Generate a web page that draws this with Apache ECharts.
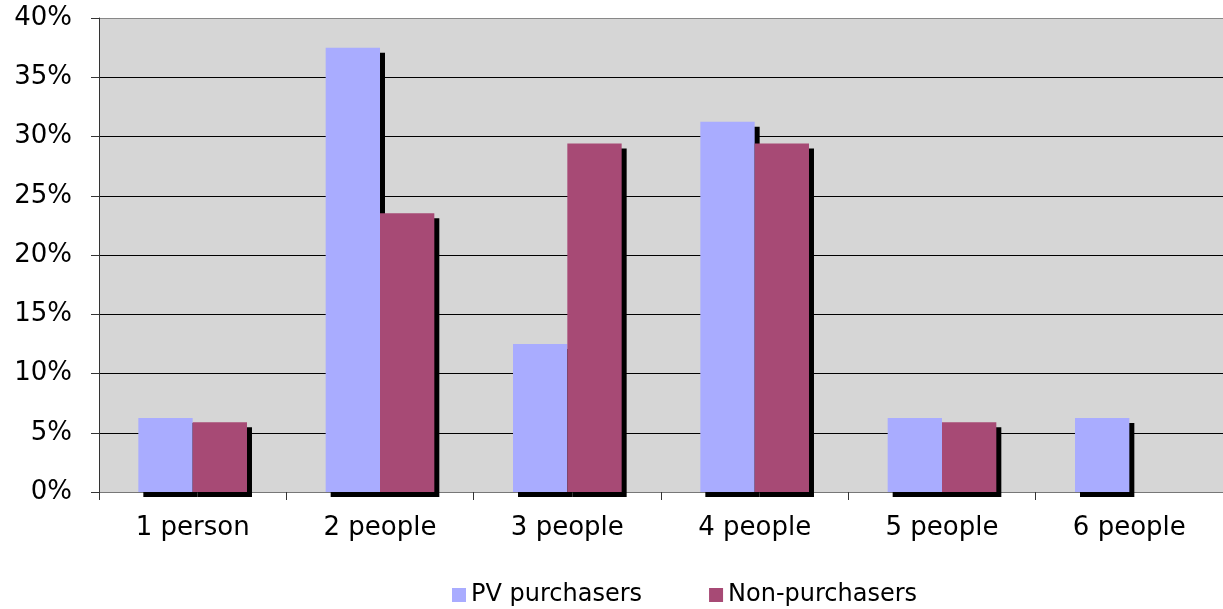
<!DOCTYPE html>
<html>
<head>
<meta charset="utf-8">
<script src="https://cdn.jsdelivr.net/npm/echarts@6/dist/echarts.min.js"></script>
<style>
  html, body { margin: 0; padding: 0; background: #fff; }
  #chart { width: 1223px; height: 609px; }
</style>
</head>
<body>
<div id="chart"></div>
<script>
// Household size of PV purchasers vs non-purchasers (share of respondents, %)
const categories = ['1 person', '2 people', '3 people', '4 people', '5 people', '6 people'];
const pvPurchasers = [6.25, 37.5, 12.5, 31.25, 6.25, 6.25];
const nonPurchasers = [5.88, 23.53, 29.41, 29.41, 5.88, 0];
const seriesNames = ['PV purchasers', 'Non-purchasers'];

const FONT = 'DejaVu Sans';
const shadow = { shadowColor: '#000', shadowOffsetX: 5, shadowOffsetY: 5, shadowBlur: 0 };
// gridlines black, top border line grey
const gridColors = ['#000', '#000', '#000', '#000', '#000', '#000', '#000', '#000', '#888'];

const chart = echarts.init(document.getElementById('chart'));
chart.setOption({
  animation: false,
  grid: { left: 99, right: 0, top: 18, bottom: 117, show: true, backgroundColor: '#d6d6d6', borderWidth: 0 },
  legend: {
    left: 447, top: 578,
    itemWidth: 14, itemHeight: 14, itemGap: 67,
    icon: 'rect',
    textStyle: { fontFamily: FONT, fontSize: 24, color: '#000' },
    data: seriesNames
  },
  xAxis: {
    type: 'category',
    data: categories,
    axisLine: { lineStyle: { color: '#777', width: 1 } },
    axisTick: { show: true, length: 8, lineStyle: { color: '#333' } },
    axisLabel: { fontFamily: FONT, fontSize: 26, color: '#000', margin: 23 }
  },
  yAxis: {
    type: 'value', min: 0, max: 40, interval: 5,
    axisLine: { show: true, lineStyle: { color: '#333', width: 1 } },
    axisTick: { show: true, length: 8, lineStyle: { color: '#333' } },
    splitLine: { lineStyle: { color: gridColors, width: 1 } },
    axisLabel: { fontFamily: FONT, fontSize: 26, color: '#000', margin: 27, formatter: v => v + '%' }
  },
  series: [
    {
      name: seriesNames[0], type: 'bar', data: pvPurchasers,
      barGap: '0%', barCategoryGap: '42%',
      itemStyle: Object.assign({ color: '#a9acff' }, shadow)
    },
    {
      name: seriesNames[1], type: 'bar', data: nonPurchasers,
      itemStyle: Object.assign({ color: '#a74a75' }, shadow)
    }
  ]
});
</script>
</body>
</html>
